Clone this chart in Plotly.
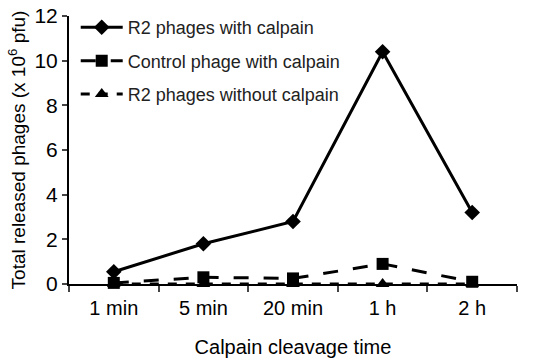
import plotly.graph_objects as go

times = ["1 min", "5 min", "20 min", "1 h", "2 h"]
r2_with_calpain = [0.55, 1.8, 2.8, 10.4, 3.2]
control_with_calpain = [0.05, 0.3, 0.25, 0.9, 0.1]
r2_without_calpain = [0.0, 0.0, 0.0, 0.0, 0.0]

font = "Liberation Sans, Arial, sans-serif"

fig = go.Figure()
fig.add_trace(go.Scatter(
    x=times, y=r2_with_calpain, mode="lines+markers",
    name="R2 phages with calpain", legendgroup="a",
    line=dict(color="black", width=3),
    marker=dict(symbol="diamond", size=12, color="black"),
    cliponaxis=False,
))
fig.add_trace(go.Scatter(
    x=times, y=control_with_calpain, mode="lines+markers",
    name="Control phage with calpain", legendgroup="b",
    line=dict(color="black", width=3, dash="longdash"),
    marker=dict(symbol="square", size=12, color="black"),
    cliponaxis=False,
))
fig.add_trace(go.Scatter(
    x=times, y=r2_without_calpain, mode="lines+markers",
    name="R2 phages without calpain", legendgroup="c",
    line=dict(color="black", width=3, dash="dash"),
    marker=dict(symbol="triangle-up", size=12, color="black"),
    cliponaxis=False,
))

fig.update_layout(
    width=550, height=362,
    margin=dict(l=69, r=33, t=16, b=78, autoexpand=False),
    plot_bgcolor="white", paper_bgcolor="white",
    font=dict(family=font, color="black"),
    showlegend=True,
    legend=dict(
        x=0.015, y=0.975, xanchor="left", yanchor="top", yref="container",
        font=dict(size=18, color="#222"),
        bgcolor="rgba(0,0,0,0)",
        traceorder="grouped",
        tracegroupgap=7,
        itemwidth=42,
    ),
)
fig.update_xaxes(
    type="category", range=[-0.5, 4.5], automargin=False,
    showline=True, linecolor="black", linewidth=2,
    ticks="outside", tickson="boundaries", ticklen=6, tickwidth=2,
    tickfont=dict(size=20), ticklabelstandoff=5,
    title=dict(text="Calpain cleavage time", font=dict(size=20), standoff=22),
    showgrid=False, zeroline=False,
)
fig.update_yaxes(
    range=[0, 12], dtick=2, automargin=False,
    showline=True, linecolor="black", linewidth=2,
    ticks="outside", ticklen=5, tickwidth=2,
    tickfont=dict(size=21),
    title=dict(text="Total released phages (x 10<sup>6</sup> pfu)", font=dict(size=19), standoff=4),
    showgrid=False, zeroline=False,
)

fig.write_html(
    "out.html",
    config={"displayModeBar": False},
    post_script="document.body.style.margin='0';",
)
